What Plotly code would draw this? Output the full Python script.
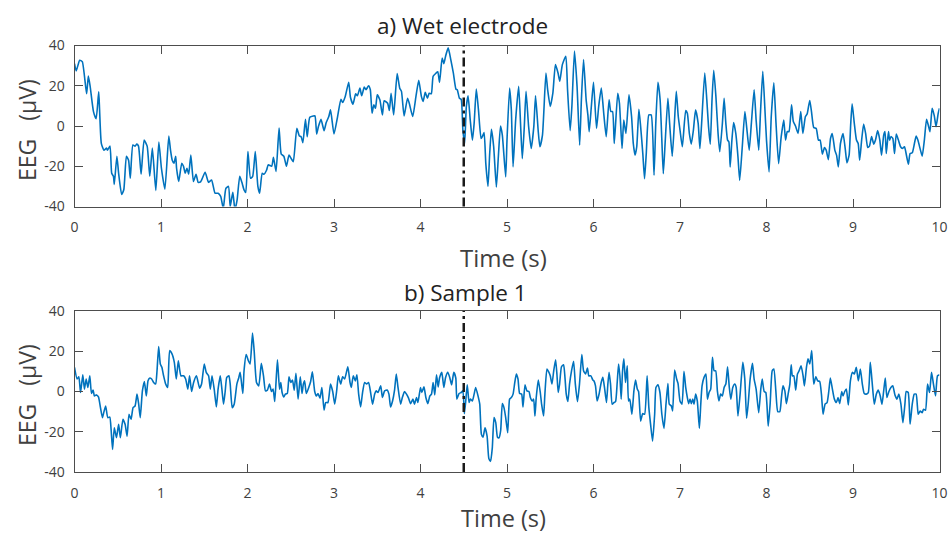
import plotly.graph_objects as go

# ---------------- data ----------------
x_ticks = [0, 1, 2, 3, 4, 5, 6, 7, 8, 9, 10]
y_ticks = [-40, -20, 0, 20, 40]
marker_time = 4.5  # dash-dot event line (s)

title_a = "a) Wet electrode"
title_b = "b) Sample 1"
x_title = "Time (s)"
y_title = "EEG   (\u03bcV)"

# (time s, EEG uV) pairs – wet electrode
wet_points = [
    (0.00, 31), (0.02, 27.4), (0.06, 32.7), (0.09, 32), (0.14, 16), (0.16, 24.8), (0.18, 20),
    (0.22, 7), (0.25, 3.6), (0.28, 17), (0.29, 8), (0.31, -8.6), (0.34, -12), (0.37, -11),
    (0.38, -12), (0.41, -10), (0.43, -23.5), (0.45, -25), (0.46, -29), (0.49, -15), (0.51, -23.5),
    (0.545, -34), (0.57, -31.7), (0.60, -15), (0.625, -17), (0.645, -26), (0.675, -9.4), (0.70, -10),
    (0.72, -9), (0.74, -10), (0.77, -24), (0.805, -7), (0.84, -10), (0.87, -25), (0.90, -11),
    (0.94, -32), (0.975, -8), (1.005, -21), (1.045, -31.4), (1.09, -5), (1.11, -12), (1.13, -17),
    (1.15, -18.5), (1.17, -15), (1.18, -21), (1.205, -27.6), (1.24, -18.5), (1.26, -20), (1.28, -23.5),
    (1.30, -21), (1.32, -24), (1.345, -14.4), (1.375, -27.6), (1.405, -24), (1.43, -28), (1.46, -27.6),
    (1.51, -23), (1.55, -28), (1.585, -26.8), (1.625, -33.4), (1.66, -33.4), (1.69, -35), (1.72, -41),
    (1.75, -31), (1.78, -30), (1.80, -40), (1.83, -33), (1.855, -41.6), (1.88, -36.7), (1.91, -25),
    (1.935, -28), (1.96, -31.7), (1.98, -33), (2.005, -12.7), (2.035, -26), (2.06, -25), (2.09, -12.7),
    (2.12, -30), (2.14, -33.4), (2.17, -23.5), (2.19, -24), (2.22, -22), (2.24, -19.3), (2.28, -20),
    (2.30, -15.5), (2.33, -22.6), (2.365, -1), (2.39, -14), (2.42, -15), (2.45, -20), (2.48, -14.4),
    (2.51, -16.5), (2.53, -17.7), (2.57, -1.2), (2.60, -5), (2.62, -5.3), (2.64, -8.3), (2.67, 3.3),
    (2.69, -5.3), (2.72, 4.3), (2.76, 5), (2.78, 5), (2.80, -4), (2.82, -0.3), (2.85, 3.3),
    (2.885, -2.3), (2.91, 1.7), (2.94, 4.7), (2.96, 8), (3.00, -4), (3.04, 4.3), (3.08, 13.3),
    (3.10, 11.7), (3.13, 14.7), (3.17, 21.7), (3.19, 14.3), (3.22, 10.8), (3.25, 16), (3.27, 15),
    (3.30, 18.8), (3.32, 15), (3.35, 19.3), (3.37, 18), (3.40, 20), (3.42, 18), (3.44, 6.3),
    (3.46, 10.5), (3.48, 8.8), (3.50, 15.5), (3.53, 13), (3.56, 5.5), (3.58, 12.5), (3.62, 11.3),
    (3.64, 7.7), (3.66, 16.3), (3.69, 5.5), (3.73, 26), (3.76, 18.8), (3.78, 17.2), (3.81, 5),
    (3.85, 13.8), (3.87, 11.3), (3.91, 4.7), (3.95, 15.5), (3.98, 22.7), (4.01, 14.7), (4.03, 12.2),
    (4.055, 16.7), (4.08, 13.8), (4.10, 16.3), (4.125, 16), (4.146, 24.7), (4.18, 26.3), (4.20, 27),
    (4.22, 21.7), (4.25, 33.8), (4.27, 31), (4.29, 34.7), (4.32, 38.8), (4.35, 33), (4.38, 26.3),
    (4.41, 18.3), (4.425, 18), (4.45, 13.8), (4.47, 13.3), (4.49, -2), (4.51, -8.7), (4.53, 9.7),
    (4.55, 15), (4.575, 3), (4.60, -7), (4.62, 1.3), (4.645, 18.3), (4.67, 8), (4.70, -6.2),
    (4.715, -5.3), (4.735, -3.3), (4.755, -18.7), (4.78, -30), (4.80, -13.7), (4.82, -1.7),
    (4.846, -10.3), (4.877, -30.3), (4.90, -15.3), (4.925, 0), (4.946, -4.5), (4.985, -25.3),
    (5.00, -7), (5.03, 18.8), (5.05, 8), (5.07, -20.3), (5.10, 3), (5.135, 19.7), (5.158, -0.3),
    (5.177, -16.2), (5.20, -0.3), (5.22, 17.2), (5.25, -0.3), (5.28, -11.2), (5.31, -0.3), (5.33, 15),
    (5.36, -2), (5.38, -10.3), (5.41, -4.5), (5.45, 26.3), (5.47, 18), (5.50, 9.7), (5.53, 16.3),
    (5.56, 30.5), (5.59, 26.3), (5.61, 22.2), (5.64, 30.5), (5.68, 34.7), (5.70, 18), (5.73, -2.3),
    (5.75, 9.7), (5.78, 37.2), (5.81, 19.7), (5.84, -9.5), (5.86, 13), (5.885, 33), (5.915, 13),
    (5.935, 5.5), (5.95, -2.8), (5.975, 9.7), (6.00, 21.7), (6.035, -1.2), (6.06, 9.7), (6.09, 18.8),
    (6.12, 5.5), (6.147, -5.3), (6.18, 13), (6.20, 7.2), (6.22, 7.2), (6.24, -8.7), (6.28, 16.3),
    (6.30, 11.3), (6.33, -11.2), (6.35, 3), (6.375, -3.7), (6.41, 15.5), (6.44, 4.7), (6.46, -8.7),
    (6.48, -14.5), (6.50, -10.3), (6.525, 8.3), (6.545, -0.3), (6.57, -13.7), (6.59, -26.2),
    (6.61, -13.7), (6.64, 5.5), (6.667, 5.5), (6.70, -24.5), (6.72, 1.3), (6.745, 21.7), (6.77, 13),
    (6.79, -7), (6.807, -23.7), (6.83, -7), (6.86, 13.8), (6.88, 1.3), (6.91, -15), (6.935, 1.3),
    (6.957, 17.2), (6.98, 4.7), (7.00, -2), (7.027, -10.3), (7.066, 7.7), (7.085, 6.3), (7.108, -3.7),
    (7.13, -9), (7.155, -2), (7.18, 8), (7.21, 1.3), (7.23, -11.2), (7.25, 1.3), (7.286, 26.3),
    (7.31, 13), (7.33, -0.3), (7.35, -9), (7.37, 13), (7.39, 27.7), (7.415, 14.7), (7.44, -3.7),
    (7.46, -12.8), (7.49, 1.3), (7.51, 13.8), (7.53, 1.3), (7.55, -7), (7.565, -7.8), (7.58, -20.3),
    (7.60, -7), (7.62, 1.7), (7.645, -3.7), (7.67, -15.3), (7.69, -27), (7.72, -10.3), (7.75, 7.2),
    (7.77, -0.3), (7.80, -12), (7.825, 1.3), (7.857, 18), (7.88, 3), (7.91, -12), (7.93, 6.3),
    (7.957, 27.2), (7.98, 9.7), (8.00, -7), (8.03, -22.8), (8.055, 4.7), (8.085, 21.5), (8.11, 1.3),
    (8.14, -18.7), (8.17, -5.3), (8.20, 3), (8.22, -7), (8.24, -2.8), (8.26, -2.8), (8.29, 10.5),
    (8.31, 2.2), (8.335, 0), (8.365, -3.7), (8.396, 7.2), (8.42, -3.7), (8.45, 4.7), (8.47, 6),
    (8.50, 12.7), (8.52, 7.2), (8.546, -0.7), (8.575, -1.2), (8.60, -7), (8.62, -7), (8.646, -14),
    (8.67, -10.7), (8.69, -12), (8.715, -16.7), (8.74, -6.2), (8.76, -3.7), (8.79, -12), (8.81, -14.5),
    (8.83, -20.3), (8.855, -8.7), (8.885, -3.7), (8.91, -11.2), (8.93, -18.3), (8.955, -14.5),
    (8.973, 0.5), (8.99, 11), (9.015, 1.3), (9.04, -7), (9.06, -8.7), (9.077, -17), (9.10, -7),
    (9.123, 1), (9.146, -3.7), (9.17, -10.7), (9.19, -10), (9.215, -5.3), (9.24, -9), (9.26, -7),
    (9.285, -2.3), (9.31, -7), (9.33, -14.5), (9.355, -4.5), (9.37, -2.8), (9.385, -13.7), (9.41, -2.8),
    (9.423, -7), (9.438, -5.3), (9.46, -6.2), (9.48, -13.7), (9.50, -4), (9.525, -7), (9.55, -10.3),
    (9.57, -11.2), (9.595, -10.3), (9.61, -12.8), (9.64, -19), (9.66, -13.7), (9.685, -13.3),
    (9.71, -8.7), (9.73, -5), (9.75, -7), (9.78, -12), (9.80, -15), (9.825, -7), (9.85, 3.3),
    (9.87, 0.5), (9.89, -2.8), (9.915, 8.8), (9.94, 5), (9.96, -0.3), (9.985, 6.3), (10.0, 8.8),
]

# (time s, EEG uV) pairs – sample 1
sample_points = [
    (0.00, 12), (0.03, 6.2), (0.05, 7.3), (0.07, -0.5), (0.096, 8.3), (0.115, 1.2), (0.135, 6.2),
    (0.154, 2), (0.177, 7.8), (0.196, -1), (0.215, 0.7), (0.23, -2.2), (0.254, -1.7), (0.277, -2.7),
    (0.30, -8), (0.323, -13), (0.338, -10.5), (0.36, -7.2), (0.385, -13), (0.408, -12.7),
    (0.423, -18.8), (0.44, -28.8), (0.46, -18), (0.485, -23), (0.51, -16.3), (0.53, -23),
    (0.56, -13.8), (0.585, -16.3), (0.608, -22.2), (0.63, -11.3), (0.654, -13.8), (0.677, -8),
    (0.70, -7.2), (0.723, -1.3), (0.742, -6.3), (0.76, -13), (0.785, 0.3), (0.808, 5), (0.83, -2.2),
    (0.85, 5.3), (0.87, 6.7), (0.892, 6.2), (0.915, 4.5), (0.938, 3.7), (0.954, 10.3), (0.973, 22.3),
    (0.992, 13.7), (1.01, 12), (1.03, 7.8), (1.054, 3.7), (1.077, 2), (1.10, 20.3), (1.127, 18.7),
    (1.154, 14.5), (1.177, 6.2), (1.20, 15.3), (1.23, 7.8), (1.262, 7.8), (1.285, 6.2), (1.31, 1.2),
    (1.33, 7.8), (1.354, 0), (1.377, 4.5), (1.41, 7.8), (1.446, 1.7), (1.469, 3.7), (1.50, 13.7),
    (1.523, 9.5), (1.55, 7.8), (1.57, 1.2), (1.59, 7.8), (1.615, 1.2), (1.64, -7.7), (1.66, 1.2),
    (1.685, 7.8), (1.704, 1.2), (1.723, -6.3), (1.742, 0), (1.76, 7), (1.785, 7.8), (1.80, 3.7),
    (1.823, -8), (1.846, -6.3), (1.877, 3.7), (1.90, 7), (1.915, 9.5), (1.946, -1), (1.96, 10.3),
    (1.985, 18.3), (2.01, 15.3), (2.03, 13.7), (2.058, 29), (2.077, 20.3), (2.104, 4.5), (2.13, 2.8),
    (2.16, 14), (2.185, 7.8), (2.208, 0.3), (2.23, 0.7), (2.254, 3.7), (2.277, 0), (2.296, 1.2),
    (2.315, -5), (2.346, 15.7), (2.37, 1.2), (2.385, 4.5), (2.40, -0.5), (2.42, -2.7), (2.438, -1.3),
    (2.46, -1), (2.48, 7.3), (2.50, 4.5), (2.52, 5.7), (2.54, 0.7), (2.56, 9), (2.585, -3.8),
    (2.61, 7.3), (2.63, -1), (2.646, 3.7), (2.66, 5.3), (2.68, -1), (2.708, 2), (2.73, 5), (2.75, 9.8),
    (2.777, 0), (2.796, -2.2), (2.815, -1), (2.838, -3.3), (2.86, 2), (2.885, -9.3), (2.904, -5.5),
    (2.93, -5.5), (2.96, 3.7), (2.985, 0), (3.008, -6.3), (3.03, 0), (3.05, 7.8), (3.077, 3.7),
    (3.10, 7.3), (3.123, 6.2), (3.16, 12.3), (3.185, 4.5), (3.20, 2), (3.223, 7.8), (3.246, 5.3),
    (3.265, 8.3), (3.285, -1.3), (3.308, -7.7), (3.33, -0.5), (3.354, 4.5), (3.377, 3.7), (3.40, 4.5),
    (3.423, -0.5), (3.446, -6.3), (3.47, -1.3), (3.488, 0.3), (3.508, -0.5), (3.54, 2.8), (3.56, -3),
    (3.585, 0.3), (3.615, 0.7), (3.635, -1.3), (3.654, -7.7), (3.677, -4.7), (3.70, 0.7), (3.72, 8.7),
    (3.74, 2), (3.77, -6.3), (3.79, -3), (3.815, 0), (3.838, -1.3), (3.862, -3.3), (3.885, -6),
    (3.912, -3.8), (3.93, -6.3), (3.954, -3), (3.97, -5.5), (4.00, 2), (4.015, -0.5), (4.04, 2.3),
    (4.062, -3), (4.085, -6), (4.108, -2.2), (4.127, -1.3), (4.146, 4.5), (4.165, -1.7), (4.185, 8.3),
    (4.204, 2.3), (4.22, 6.7), (4.246, 9.5), (4.27, 2), (4.29, 7), (4.315, 9.5), (4.338, 7),
    (4.36, 3.3), (4.385, 9.5), (4.408, 6.7), (4.42, -3.8), (4.446, -1), (4.47, -0.5), (4.49, 0.3),
    (4.507, -11), (4.523, -4.7), (4.54, 3.3), (4.562, -5.5), (4.577, -3.8), (4.60, -4.7), (4.62, -1.3),
    (4.638, 2), (4.665, -2.2), (4.685, -6.3), (4.704, -21.3), (4.723, -22.7), (4.746, -18),
    (4.77, -22.2), (4.79, -33.3), (4.81, -34.7), (4.83, -28), (4.85, -13), (4.87, -15.5),
    (4.89, -22.7), (4.908, -23), (4.927, -19.3), (4.946, -6), (4.965, -8), (4.985, -13),
    (5.008, -20.5), (5.03, -3.8), (5.05, -3), (5.07, -1.3), (5.09, 4.5), (5.108, 8.7), (5.127, 6.2),
    (5.146, -1), (5.169, -1.3), (5.185, -7.7), (5.208, 3.3), (5.23, 0.3), (5.254, 0), (5.27, -3),
    (5.292, -4.7), (5.308, -3.8), (5.323, -12.2), (5.338, -3), (5.362, 5.7), (5.385, -0.5),
    (5.40, -6.3), (5.423, -12.2), (5.438, -1.3), (5.462, 11.2), (5.485, 9.5), (5.50, 7.8),
    (5.52, 3.7), (5.54, 10.3), (5.562, 15.7), (5.577, 8.7), (5.592, -0.5), (5.608, 3.7), (5.63, 12.3),
    (5.654, 13.3), (5.67, 7), (5.685, -1.3), (5.704, -5), (5.723, 3.7), (5.746, 10.3), (5.77, 15),
    (5.79, 3.7), (5.815, -5), (5.838, 3.7), (5.865, 18.3), (5.885, 10.3), (5.908, 8.7), (5.93, 11.7),
    (5.946, 7.8), (5.97, 7.8), (5.992, 5.7), (6.004, 5.3), (6.023, 2.8), (6.042, -4.7), (6.066, -1),
    (6.089, 4.5), (6.108, 7), (6.127, 2), (6.15, -5.5), (6.166, 3.7), (6.18, 9.5), (6.197, 3.7),
    (6.216, -6.3), (6.236, -5.5), (6.255, -5), (6.274, 4.5), (6.29, 13.7), (6.305, 7.8), (6.32, -3.8),
    (6.336, 10.3), (6.351, 16.2), (6.37, 4.5), (6.39, 12.8), (6.405, -4.7), (6.42, -3.8),
    (6.444, -11.3), (6.467, 0.3), (6.486, 5.7), (6.506, 1.2), (6.521, 0), (6.545, -14.7),
    (6.568, -11), (6.591, -11.3), (6.62, 7.8), (6.64, -8), (6.66, -16.3), (6.683, -24.7),
    (6.707, -11.3), (6.722, 2), (6.745, 3.3), (6.768, -0.5), (6.79, -11.3), (6.815, -18.3),
    (6.838, -6.3), (6.86, 4), (6.876, -6.3), (6.90, -7.2), (6.915, -9.7), (6.938, 10.7), (6.961, 6.2),
    (6.977, 4), (7.00, -4.7), (7.023, -6.3), (7.046, 10), (7.066, 2), (7.085, -3), (7.10, -6),
    (7.116, -3.8), (7.131, -6), (7.147, -3.8), (7.162, -6.3), (7.181, -1.3), (7.20, -4.7),
    (7.224, -18.3), (7.24, -6.3), (7.255, 2.8), (7.278, 7), (7.30, 8.7), (7.317, -3.8), (7.336, -0.5),
    (7.355, 1.2), (7.375, 17), (7.394, 10.3), (7.413, 10.3), (7.432, 0.3), (7.45, -4.7), (7.47, -1.3),
    (7.49, -2.2), (7.51, 2), (7.53, 3.7), (7.55, 12.3), (7.57, 2), (7.587, -3.8), (7.61, 2),
    (7.633, 3.7), (7.649, 2), (7.67, -12.2), (7.695, -1.3), (7.726, 14.5), (7.749, 6.2), (7.77, -13.3),
    (7.788, -6.3), (7.811, 6.2), (7.838, 14), (7.857, 6.2), (7.88, 1.2), (7.91, -10.5), (7.934, 1.2),
    (7.95, 6.2), (7.973, 0), (7.992, -0.5), (8.02, -17.2), (8.042, -6.3), (8.066, 10.3), (8.085, 11.2),
    (8.108, 0.3), (8.13, -10), (8.154, -10), (8.173, -3), (8.19, 2.8), (8.212, 0.3), (8.23, -6),
    (8.25, -1.3), (8.27, 3.7), (8.285, 13.3), (8.30, 7.8), (8.316, 7.8), (8.338, 0.7), (8.358, 8.7),
    (8.377, 10.3), (8.40, 12.8), (8.423, 7.8), (8.438, 2.8), (8.462, 12), (8.48, 16.2), (8.50, 13.7),
    (8.523, 20.3), (8.546, 3.7), (8.57, 7.3), (8.592, 5.3), (8.615, 5), (8.635, -1.3), (8.654, -11.3),
    (8.677, -6.3), (8.70, -5.5), (8.72, 0), (8.738, 6.7), (8.762, 1.2), (8.785, -3.8), (8.808, -5.5),
    (8.827, -3), (8.846, -6), (8.87, 0), (8.885, -2.2), (8.904, 0), (8.923, 1.2), (8.946, -6.7),
    (8.97, 5.3), (8.992, 9.5), (9.015, 8.7), (9.038, 12), (9.062, 5.3), (9.085, 11.2), (9.108, 3.7),
    (9.13, -1), (9.154, -1.3), (9.177, -0.5), (9.20, 14.5), (9.223, 3.7), (9.246, -6.3), (9.27, -1.3),
    (9.292, 0.7), (9.315, -2.2), (9.335, -6.3), (9.354, 0), (9.373, 6.7), (9.392, -3), (9.415, 0),
    (9.438, 2), (9.46, 2.8), (9.485, -1.7), (9.508, -3.8), (9.53, -1.3), (9.554, -6.3), (9.577, -15.5),
    (9.60, -6.3), (9.615, 0), (9.638, -0.5), (9.66, -16.3), (9.685, -6.3), (9.708, -1.3), (9.73, -1.3),
    (9.754, -11.3), (9.777, -9.7), (9.80, -10.5), (9.815, -8.8), (9.838, -9.3), (9.862, 3.7),
    (9.885, -0.5), (9.908, 9.5), (9.93, 3.7), (9.954, -2.2), (9.977, 7.8), (10.0, 8.3),
]

wet_time = [p[0] for p in wet_points]
wet_eeg = [p[1] for p in wet_points]
sample_time = [p[0] for p in sample_points]
sample_eeg = [p[1] for p in sample_points]

# ---------------- styling ----------------
W, H = 948, 534
FONT = "Open Sans"
AXIS_COLOR = "#4d4d4d"
TEXT_COLOR = "#404040"
LINE_COLOR = "#0072BD"


def px(sx):
    return sx / W


def py(sy):
    return 1 - sy / H


x_dom = [px(74.5), px(939.5)]
ya_dom = [py(206.5), py(45.5)]
yb_dom = [py(472), py(311)]

fig = go.Figure()
fig.add_trace(go.Scatter(x=wet_time, y=wet_eeg, mode="lines",
                         line=dict(color=LINE_COLOR, width=1.6, shape="spline", smoothing=0.5),
                         xaxis="x", yaxis="y", hoverinfo="skip", showlegend=False))
fig.add_trace(go.Scatter(x=sample_time, y=sample_eeg, mode="lines",
                         line=dict(color=LINE_COLOR, width=1.6, shape="spline", smoothing=0.5),
                         xaxis="x2", yaxis="y2", hoverinfo="skip", showlegend=False))


def xaxis_cfg(anchor):
    return dict(domain=x_dom, anchor=anchor, range=[0, 10], tickvals=x_ticks,
                ticktext=[str(v) for v in x_ticks], ticks="inside", ticklen=8,
                tickwidth=1, tickcolor=AXIS_COLOR, showline=True, linecolor=AXIS_COLOR,
                linewidth=1, mirror="ticks", showgrid=False, zeroline=False, automargin=False,
                tickfont=dict(family=FONT, size=14, color=TEXT_COLOR), ticklabelstandoff=8)


def yaxis_cfg(anchor, dom):
    return dict(domain=dom, anchor=anchor, range=[-40, 40], tickvals=y_ticks,
                ticktext=[str(v) for v in y_ticks], ticks="inside", ticklen=8,
                tickwidth=1, tickcolor=AXIS_COLOR, showline=True, linecolor=AXIS_COLOR,
                linewidth=1, mirror="ticks", showgrid=False, zeroline=False, automargin=False,
                tickfont=dict(family=FONT, size=14, color=TEXT_COLOR), ticklabelstandoff=6)


fig.update_layout(
    template="none",
    width=W, height=H, margin=dict(l=0, r=0, t=0, b=0, pad=0),
    paper_bgcolor="white", plot_bgcolor="white",
    xaxis=xaxis_cfg("y"), yaxis=yaxis_cfg("x", ya_dom),
    xaxis2=xaxis_cfg("y2"), yaxis2=yaxis_cfg("x2", yb_dom),
)

# event marker lines
for xr, yr in (("x", "y domain"), ("x2", "y2 domain")):
    fig.add_shape(type="line", xref=xr, yref=yr, x0=marker_time, x1=marker_time, y0=0, y1=1,
                  line=dict(color="#1a1a1a", width=2.5, dash="9px,4px,3px,4px"), layer="above")


# titles and axis titles as annotations
def ann(text, sx, sy, size, color, angle=0):
    fig.add_annotation(text=text, xref="paper", yref="paper", x=px(sx), y=py(sy),
                       xanchor="center", yanchor="middle", showarrow=False, textangle=angle,
                       font=dict(family=FONT, size=size, color=color))


ann(title_a, 462, 25, 22.5, "#222222")
ann(title_b, 465, 292, 22.5, "#222222")
ann(x_title, 504, 257, 24, TEXT_COLOR)
ann(x_title, 504, 518, 23.5, TEXT_COLOR)
ann(y_title, 27, 130, 23, TEXT_COLOR, -90)
ann(y_title, 27, 395, 23, TEXT_COLOR, -90)

# the page body has a default 8px margin; remove it so the 948x534 figure
# fills the window exactly
fig.write_html("out.html", config={"displayModeBar": False},
               post_script="document.body.style.margin='0px';document.body.style.overflow='hidden';")
